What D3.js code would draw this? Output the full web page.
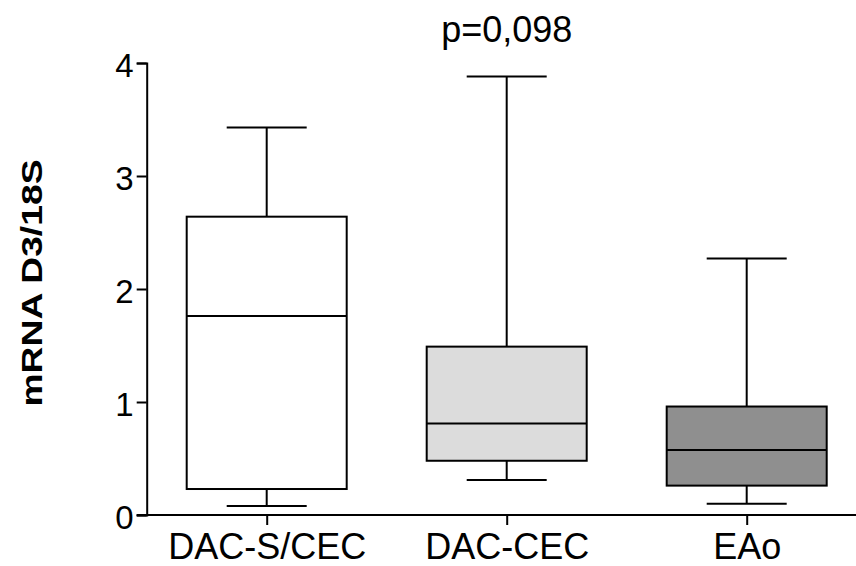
<!DOCTYPE html>
<html>
<head>
<meta charset="utf-8">
<script src="https://cdn.jsdelivr.net/npm/d3@7"></script>
<style>
  body { margin: 0; background: #fff; }
  text { font-family: "Liberation Sans", Arial, sans-serif; fill: #000; }
</style>
</head>
<body>
<svg id="chart" width="856" height="566"></svg>
<script>
// groups and box statistics
const categories = ["DAC-S/CEC", "DAC-CEC", "EAo"];
const whiskerLow = [0.08, 0.31, 0.10];
const q1 = [0.23, 0.48, 0.26];
const median = [1.76, 0.81, 0.575];
const q3 = [2.64, 1.49, 0.96];
const whiskerHigh = [3.43, 3.88, 2.27];
const fills = ["#ffffff", "#dcdcdc", "#8f8f8f"];
const yTicks = [0, 1, 2, 3, 4];
const pLabel = "p=0,098";

const width = 856;
const svg = d3.select("#chart");

const x = d3.scalePoint()
  .domain(categories)
  .range([146.7, 866.7])
  .padding(0.5);
const boxW = x.step() * 2 / 3;
const capW = x.step() / 3;

const y = d3.scaleLinear().domain([0, 4]).range([515, 63]);

const boxes = categories.map((c, i) => ({
  name: c, lo: whiskerLow[i], q1: q1[i], med: median[i], q3: q3[i], hi: whiskerHigh[i], fill: fills[i]
}));

// y axis
const yAxis = svg.append("g")
  .attr("transform", `translate(${x.range()[0]},0)`)
  .call(d3.axisLeft(y).tickValues(yTicks).tickSize(10).tickPadding(3).tickFormat(d3.format("d")));
yAxis.select(".domain").attr("stroke", "#000").attr("stroke-width", 2);
yAxis.selectAll(".tick line").attr("stroke", "#000").attr("stroke-width", 2);
yAxis.selectAll(".tick text")
  .attr("font-size", "33px")
  .attr("font-family", "'Liberation Sans', Arial, sans-serif")
  .attr("dy", "0.4em");

// x axis
const xAxis = svg.append("g")
  .attr("transform", `translate(0,${y(0)})`)
  .call(d3.axisBottom(x).tickSize(10).tickPadding(8));
xAxis.select(".domain").remove();
xAxis.selectAll(".tick line").attr("stroke", "#000").attr("stroke-width", 2);
xAxis.selectAll(".tick text")
  .attr("font-size", "36px")
  .attr("font-family", "'Liberation Sans', Arial, sans-serif");
xAxis.append("line")
  .attr("x1", x.range()[0] - 10).attr("x2", width)
  .attr("y1", 0).attr("y2", 0)
  .attr("stroke", "#000").attr("stroke-width", 2);

// boxes
const g = svg.selectAll(".box")
  .data(boxes)
  .enter().append("g")
  .attr("class", "box")
  .attr("stroke", "#000")
  .attr("stroke-width", 2);

g.append("line")
  .attr("x1", d => x(d.name)).attr("x2", d => x(d.name))
  .attr("y1", d => y(d.hi)).attr("y2", d => y(d.q3));
g.append("line")
  .attr("x1", d => x(d.name)).attr("x2", d => x(d.name))
  .attr("y1", d => y(d.q1)).attr("y2", d => y(d.lo));
g.append("line")
  .attr("x1", d => x(d.name) - capW / 2).attr("x2", d => x(d.name) + capW / 2)
  .attr("y1", d => y(d.hi)).attr("y2", d => y(d.hi));
g.append("line")
  .attr("x1", d => x(d.name) - capW / 2).attr("x2", d => x(d.name) + capW / 2)
  .attr("y1", d => y(d.lo)).attr("y2", d => y(d.lo));
g.append("rect")
  .attr("x", d => x(d.name) - boxW / 2)
  .attr("width", boxW)
  .attr("y", d => y(d.q3))
  .attr("height", d => y(d.q1) - y(d.q3))
  .attr("fill", d => d.fill);
g.append("line")
  .attr("x1", d => x(d.name) - boxW / 2).attr("x2", d => x(d.name) + boxW / 2)
  .attr("y1", d => y(d.med)).attr("y2", d => y(d.med));

// p value over the middle group
svg.append("text")
  .attr("x", x(categories[1]))
  .attr("y", 42)
  .attr("text-anchor", "middle")
  .attr("font-size", "36px")
  .text(pLabel);

// y axis title
svg.append("text")
  .attr("transform", "translate(42,283) rotate(-90)")
  .attr("text-anchor", "middle")
  .attr("font-size", "30px")
  .attr("font-weight", "bold")
  .attr("textLength", 247)
  .attr("lengthAdjust", "spacingAndGlyphs")
  .text("mRNA D3/18S");
</script>
</body>
</html>
